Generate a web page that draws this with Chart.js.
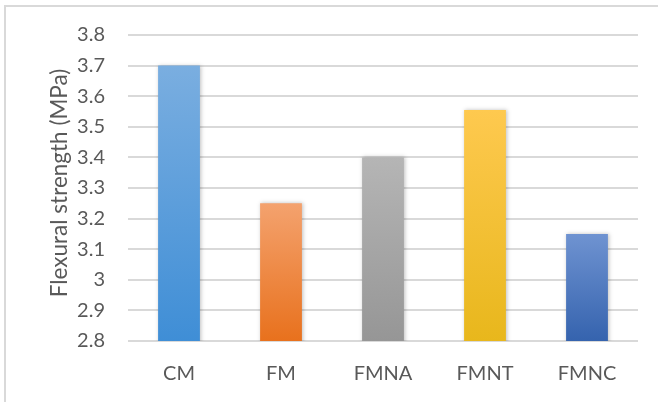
<!DOCTYPE html>
<html>
<head>
<meta charset="utf-8">
<script src="https://cdn.jsdelivr.net/npm/chart.js@4.4.1/dist/chart.umd.min.js"></script>
<style>
  html, body { margin: 0; padding: 0; background: #fff; }
  #box { position: absolute; left: 4px; top: 5px; width: 660px; height: 400px;
         border-left: 2px solid #d9d9d9; border-top: 2px solid #d9d9d9; }
  #wrap { position: absolute; left: 0; top: 0; width: 658px; height: 402px; }
</style>
</head>
<body>
<div id="box"></div>
<div id="wrap"><canvas id="grafico"></canvas></div>
<script>
// dados do grafico
var categorias = ['CM', 'FM', 'FMNA', 'FMNT', 'FMNC'];
var resistencia = [3.70, 3.25, 3.40, 3.555, 3.15];
var ticksY = [2.8, 2.9, 3, 3.1, 3.2, 3.3, 3.4, 3.5, 3.6, 3.7, 3.8];
var tituloY = 'Flexural strength (MPa)';

// cor do topo e da base de cada barra
var corTopo = ['#7aaee0', '#f4a26e', '#b5b5b5', '#fec94f', '#6f93d1'];
var corBase = ['#3f8ed6', '#e8711d', '#969696', '#e8b71c', '#3563ae'];

var fonte = 'Lato, "Open Sans", sans-serif';

function gradienteBarra(context) {
    var chart = context.chart;
    var area = chart.chartArea;
    if (!area) return corBase[context.dataIndex];
    var y = chart.scales.y;
    var topo = y.getPixelForValue(resistencia[context.dataIndex]);
    var base = y.getPixelForValue(ticksY[0]);
    var g = chart.ctx.createLinearGradient(0, topo, 0, base);
    g.addColorStop(0, corTopo[context.dataIndex]);
    g.addColorStop(1, corBase[context.dataIndex]);
    return g;
}

// sombra leve nas barras
var sombra = {
    id: 'sombra',
    beforeDatasetsDraw: function (chart) {
        chart.ctx.save();
        chart.ctx.shadowColor = 'rgba(0,0,0,0.25)';
        chart.ctx.shadowBlur = 4;
        chart.ctx.shadowOffsetX = 1;
    },
    afterDatasetsDraw: function (chart) {
        chart.ctx.restore();
    }
};

// titulo do eixo y desenhado na mao (posicao fixa)
var tituloEixo = {
    id: 'tituloEixo',
    afterDraw: function (chart) {
        var ctx = chart.ctx;
        var a = chart.chartArea;
        ctx.save();
        ctx.translate(60, (a.top + a.bottom) / 2 - 5);
        ctx.rotate(-Math.PI / 2);
        ctx.font = '22.5px ' + fonte;
        ctx.fillStyle = '#595959';
        ctx.textAlign = 'center';
        ctx.textBaseline = 'middle';
        ctx.fillText(tituloY, 0, 0);
        ctx.restore();
    }
};

new Chart(document.getElementById('grafico'), {
    type: 'bar',
    data: {
        labels: categorias,
        datasets: [{
            label: 'Flexural strength',
            data: resistencia,
            backgroundColor: gradienteBarra,
            borderWidth: 0,
            barPercentage: 0.41,
            categoryPercentage: 1
        }]
    },
    options: {
        responsive: true,
        maintainAspectRatio: false,
        animation: false,
        layout: { padding: { left: 44, right: 20, top: 25, bottom: 15 } },
        plugins: {
            legend: { display: false },
            tooltip: { enabled: false }
        },
        scales: {
            x: {
                grid: { display: false },
                border: { display: false },
                ticks: { color: '#595959', font: { family: fonte, size: 20 }, padding: 13, maxRotation: 0 },
                afterFit: function (scale) { scale.height = 46; }
            },
            y: {
                min: 2.8,
                max: 3.8,
                afterBuildTicks: function (axis) {
                    axis.ticks = ticksY.map(function (v) { return { value: v }; });
                },
                afterFit: function (scale) { scale.width = 84; },
                grid: { color: '#d9d9d9', lineWidth: 2, drawTicks: false },
                border: { display: false },
                ticks: {
                    color: '#595959',
                    font: { family: fonte, size: 20 },
                    padding: 23,
                    callback: function (v) { return String(Math.round(v * 10) / 10); }
                }
            }
        }
    },
    plugins: [sombra, tituloEixo]
});
</script>
</body>
</html>
